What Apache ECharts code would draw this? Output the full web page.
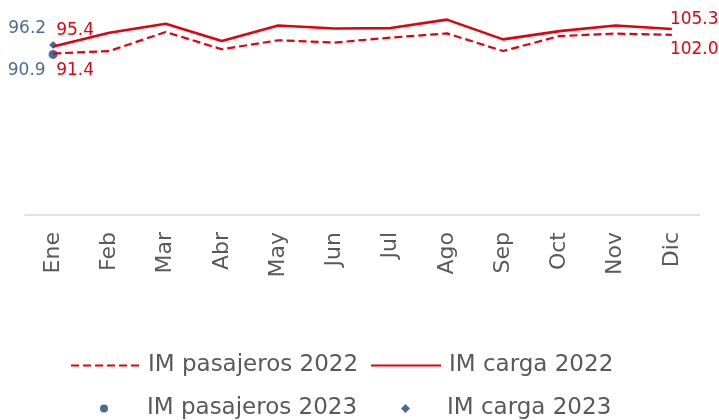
<!DOCTYPE html>
<html>
<head>
<meta charset="utf-8">
<script src="https://cdn.jsdelivr.net/npm/echarts@6/dist/echarts.min.js"></script>
<style>
  html, body { margin: 0; padding: 0; background: #fff; }
  #main { width: 719px; height: 420px; }
</style>
</head>
<body>
<div id="main"></div>
<script>
const months = ["Ene", "Feb", "Mar", "Abr", "May", "Jun", "Jul", "Ago", "Sep", "Oct", "Nov", "Dic"];
const pasajeros2022 = [91.4, 92.8, 103.6, 93.8, 98.9, 97.6, 100.4, 102.8, 92.8, 101.3, 102.7, 102.0];
const carga2022 = [95.4, 103.2, 108.3, 98.5, 107.3, 105.6, 105.8, 110.6, 99.4, 104.1, 107.3, 105.3];
const pasajeros2023 = [90.9];
const carga2023 = [96.2];

const RED = "#e3000f";
const BLUE = "#1a4677";
const GREY = "#595959";
const FONT = "DejaVu Sans";

// etiqueta solo en el primer y ultimo punto
function withEnds(values, firstOff, lastOff) {
  return values.map((v, i) => {
    let lbl = null;
    if (i === 0) lbl = firstOff;
    if (i === values.length - 1) lbl = lastOff;
    if (!lbl) return v;
    return { value: v, label: { show: true, position: "right", offset: lbl } };
  });
}

// una leyenda por elemento para ubicar cada una
function legendItem(name, left, top, w, h, textPad, extra) {
  return Object.assign({
    left: left,
    top: top,
    padding: 0,
    itemWidth: w,
    itemHeight: h,
    textStyle: { color: GREY, fontSize: 23, fontFamily: FONT, padding: [0, 0, 0, textPad] },
    data: [name],
  }, extra || {});
}

let chart = echarts.init(document.getElementById("main"));
let labelStyle = { show: false, color: RED, fontSize: 17, fontFamily: FONT, formatter: p => p.value.toFixed(1) };

let option = {
  animation: false,
  grid: { left: 25, right: 19, top: 3, bottom: 205 },
  xAxis: {
    type: "category",
    data: months,
    axisLine: { lineStyle: { color: "#d9d9d9", width: 1.5 } },
    axisTick: { show: false },
    axisLabel: { rotate: 90, margin: 17, color: GREY, fontSize: 22, fontFamily: FONT },
  },
  yAxis: {
    type: "value",
    min: 0,
    max: 120,
    show: false,
  },
  legend: [
    legendItem("IM pasajeros 2022", 70, 354, 70, 14, 2, { itemStyle: { opacity: 0 } }),
    legendItem("IM carga 2022", 370, 354, 70, 14, 3, { itemStyle: { opacity: 0 } }),
    legendItem("IM pasajeros 2023", 100, 397, 8, 8, 34),
    legendItem("IM carga 2023", 401, 397, 9, 9, 32),
  ],
  series: [
    {
      name: "IM pasajeros 2022",
      type: "line",
      data: withEnds(pasajeros2022, [-2, 17], [-7, 15]),
      symbol: "circle",
      symbolSize: 0,
      showAllSymbol: true,
      lineStyle: { color: RED, width: 2.2, type: [8, 4] },
      itemStyle: { color: RED },
      label: labelStyle,
    },
    {
      name: "IM carga 2022",
      type: "line",
      data: withEnds(carga2022, [-2, -16], [-7, -9]),
      symbol: "circle",
      symbolSize: 0,
      showAllSymbol: true,
      lineStyle: { color: RED, width: 2.6 },
      itemStyle: { color: RED },
      label: labelStyle,
    },
    {
      name: "IM pasajeros 2023",
      type: "scatter",
      data: pasajeros2023,
      symbol: "circle",
      symbolSize: 9,
      itemStyle: { color: BLUE },
      label: { show: true, position: "left", offset: [2, 16], color: BLUE, fontSize: 17, fontFamily: FONT, formatter: p => p.value.toFixed(1) },
    },
    {
      name: "IM carga 2023",
      type: "scatter",
      data: carga2023,
      symbol: "diamond",
      symbolSize: 8,
      itemStyle: { color: BLUE },
      label: { show: true, position: "left", offset: [2, -16], color: BLUE, fontSize: 17, fontFamily: FONT, formatter: p => p.value.toFixed(1) },
    },
  ],
};
chart.setOption(option);
</script>
</body>
</html>
